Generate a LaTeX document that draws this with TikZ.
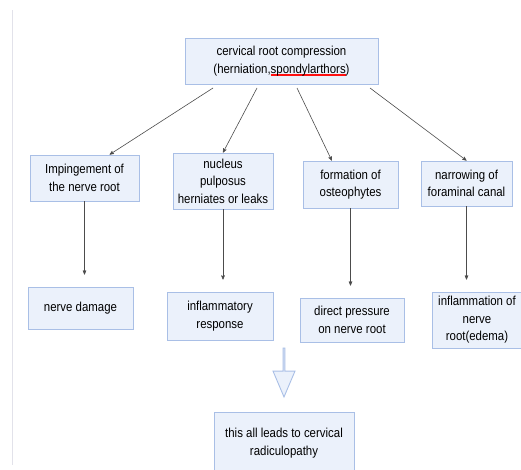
\documentclass[tikz,border=0pt]{standalone}
\usepackage{fontspec}
\setmainfont[FakeStretch=0.88]{Liberation Sans}
\usetikzlibrary{arrows,shapes.arrows}

\definecolor{boxfill}{HTML}{EBF1FB}
\definecolor{boxline}{HTML}{A9BFE6}
\definecolor{sideline}{HTML}{E2E2EA}
\definecolor{spellred}{HTML}{FF1010}

\newcommand{\spellmark}[1]{\setbox0\hbox{#1}\rlap{\textcolor{spellred}{\rule[-2.8pt]{\wd0}{1.4pt}}}#1}

\tikzset{
  box/.style={draw=boxline, fill=boxfill, line width=0.9pt, align=center,
    inner sep=2pt, font=\fontsize{13}{17.5}\selectfont},
  link/.style={->, draw=black!70, line width=0.6pt}
}

\begin{document}
\begin{tikzpicture}[x=1pt,y=-1pt,>=stealth']
  \useasboundingbox (0,0) rectangle (521,470);
  \draw[sideline, line width=1pt] (12,10) -- (12,465);

  \node[box, minimum width=193pt, minimum height=46pt] (top) at (281.5,61)
    {cervical root compression\\(herniation,\spellmark{spondylarthors})};

  \node[box, minimum width=109pt, minimum height=46pt] (imp)  at (84.5,178)  {Impingement of\\the nerve root};
  \node[box, minimum width=100pt, minimum height=56pt] (nuc)  at (223,181)   {nucleus\\pulposus\\herniates or leaks};
  \node[box, minimum width=95pt,  minimum height=47pt] (ost)  at (350.5,184.5) {formation of\\osteophytes};
  \node[box, minimum width=91pt,  minimum height=45pt] (nar)  at (466.5,183.5) {narrowing of\\foraminal canal};

  \node[box, minimum width=105pt, minimum height=42pt] (dmg)  at (80.5,308)  {nerve damage};
  \node[box, minimum width=106pt, minimum height=48pt] (infl) at (220,316)   {inflammatory\\response};
  \node[box, minimum width=104pt, minimum height=44pt] (pres) at (352,320)   {direct pressure\\on nerve root};
  \node[box, minimum width=90pt,  minimum height=56pt] (edm)  at (477,320)   {inflammation of\\nerve\\root(edema)};

  \node[box, minimum width=140pt, minimum height=62pt] (end)  at (284,443)
    {this all leads to cervical\\radiculopathy};

  % block arrow down to the last box
  \node[single arrow, draw=boxline, fill=boxfill, line width=0.9pt,
    shape border rotate=270, minimum height=49pt, minimum width=22pt,
    single arrow head extend=5.5pt, single arrow tip angle=46,
    inner sep=0pt] (down) at (284,371.5) {};

  \coordinate (s1) at (213,88);
  \coordinate (s2) at (257,88);
  \coordinate (s3) at (297,88);
  \coordinate (s4) at (370,88);

  \path[every edge/.style={draw, link}]
        (s1) edge (imp.43)
        (s2) edge (nuc.north)
        (s3) edge (ost.128)
        (s4) edge (nar.north);

  \path[every edge/.style={draw, link, shorten >=12pt}]
        (imp) edge (imp.south |- dmg.north)
        (nuc) edge (nuc.south |- infl.north)
        (ost) edge (ost.south |- pres.north)
        (nar) edge (nar.south |- edm.north);
\end{tikzpicture}
\end{document}
